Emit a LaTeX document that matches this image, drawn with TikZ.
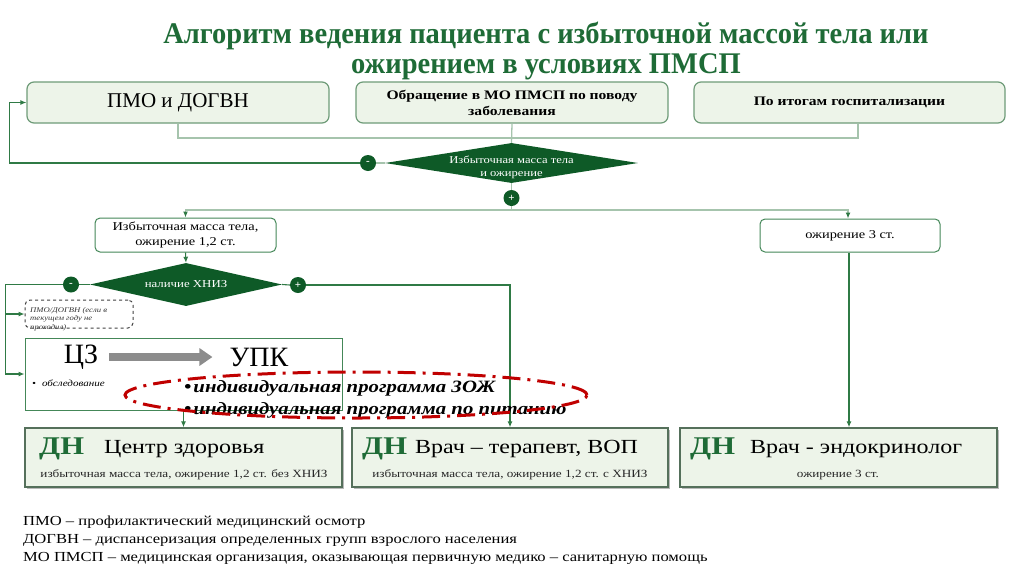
\documentclass[tikz,border=0pt]{standalone}
\usepackage{fontspec}
\setmainfont{Liberation Serif}
\newfontfamily\titlefont[FakeStretch=0.95]{Liberation Serif}
\newfontfamily\wide[FakeStretch=1.2]{Liberation Serif}
\usetikzlibrary{shapes.geometric,arrows.meta,shadows}
\definecolor{ttl}{HTML}{1E6B36}
\definecolor{dk}{HTML}{0E5A27}
\definecolor{bord}{HTML}{6E9B78}
\definecolor{lfill}{HTML}{EDF4E9}
\definecolor{conn}{HTML}{2F7A45}
\definecolor{lconn}{HTML}{A6C4AD}
\definecolor{dnb}{HTML}{55705B}
\definecolor{redd}{HTML}{C00000}
\newcommand{\fsz}[1]{\fontsize{#1}{1.2\dimexpr #1pt\relax}\selectfont}
\begin{document}
\begin{tikzpicture}[x=1pt,y=-1pt,
  topbox/.style={draw=bord, line width=1.2pt, fill=lfill, rounded corners=7pt, inner sep=0},
  whitebox/.style={draw=conn!90, line width=1pt, fill=white, rounded corners=5pt, inner sep=0},
  dashbox/.style={draw=black!75, line width=1pt, dashed, rounded corners=5pt, inner sep=0},
  dec/.style={diamond, fill=dk, inner sep=0},
  dectext/.style={text=white, align=center, inner sep=0},
  sign/.style={circle, fill=dk, minimum size=16pt, inner sep=0, text=white, font=\bfseries\fsz{11}},
  conn/.style={draw=conn, line width=1.1pt},
  lline/.style={draw=lconn, line width=1.3pt},
  arr/.style={-{Latex[length=6pt,width=5pt,color=conn]}},
  dnbox/.style={draw=dnb, line width=1.4pt, fill=lfill, inner sep=0,
     drop shadow={shadow xshift=2pt, shadow yshift=-2pt, fill=black!45, opacity=0.6}},
  txt/.style={inner sep=0}
]
\useasboundingbox (0,0) rectangle (1024,576);

% title
\node[txt, font=\titlefont\bfseries\fsz{30}, text=ttl, align=center, execute at begin node=\setlength{\baselineskip}{30pt}] (title) at (546,51)
  {Алгоритм ведения пациента с избыточной массой тела или\\ожирением в условиях ПМСП};

% top boxes
\node[topbox, minimum width=302pt, minimum height=41pt, font=\fsz{21}] (pmo) at (178,102.5) {ПМО и ДОГВН};
\node[topbox, minimum width=312pt, minimum height=41pt, font=\wide\bfseries\fsz{13}, align=center,
  execute at begin node=\setlength{\baselineskip}{16pt}] (obr) at (512,102.5)
  {Обращение в МО ПМСП по поводу\\заболевания};
\node[topbox, minimum width=311pt, minimum height=41pt, font=\wide\bfseries\fsz{13}] (gosp) at (849.5,102.5) {По итогам госпитализации};

% first decision
\node[dec, minimum width=253pt, minimum height=40pt] (d1) at (511.5,163) {};
\node[dectext, font=\wide\fsz{10.5}, execute at begin node=\setlength{\baselineskip}{13pt}] (d1t) at (511.5,167) {Избыточная масса тела\\и ожирение};
\node[sign] (m1) at (368,163) {-};
\node[sign] (p1) at (511.5,198) {+};

\coordinate (j1) at (511.5,138);
\coordinate (j2) at (511.5,210);
\draw[lline] (pmo.south) |- (j1);
\draw[lline] ([xshift=8.5pt]gosp.south) |- (j1);
\draw[lline] (obr.south) -- (d1.north);
\draw[lline] (m1.east) -- (d1.west);
\draw[lline] (d1.south) -- (p1.north);
\draw[conn, arr] (m1.west) -| ([xshift=-17pt]pmo.west) -- (pmo.west);

% second level boxes
\node[whitebox, minimum width=181pt, minimum height=34pt, align=center, font=\wide\fsz{12},
  execute at begin node=\setlength{\baselineskip}{15pt}] (b12) at (185.5,235)
  {Избыточная масса тела,\\ожирение 1,2 ст.};
\node[whitebox, minimum width=180pt, minimum height=33pt, font=\wide\fsz{12}] (b3) at (850,235.5) {ожирение 3 ст.};
\draw[lline] (p1.south) -- (j2);
\draw[lline, arr] (j2) -| (b12.north);
\draw[lline, arr] (j2) -| ([xshift=-2pt]b3.north);

% second decision
\node[dec, minimum width=192pt, minimum height=43pt] (d2) at (186,284.5) {};
\node[dectext, font=\wide\fsz{10.7}] (d2t) at (186,284.5) {наличие ХНИЗ};
\node[sign] (m2) at (71,284.5) {-};
\node[sign] (p2) at (298,285) {+};
\draw[conn, arr] (b12.south) -- (d2.north);
\draw[conn] (m2.east) -- (d2.west);
\draw[conn] (d2.east) -- (p2.west);

% dashed box and CZ box
\node[dashbox, minimum width=108pt, minimum height=28pt] (dash) at (79,314) {};
\node[txt, anchor=north west, align=left, font=\wide\itshape\fsz{7.2}, text=black!80,
  execute at begin node=\setlength{\baselineskip}{8.6pt}] (dasht) at (30,307)
  {ПМО/ДОГВН (если в\\текущем году не\\проходил)};
\node[draw=conn!90, line width=1pt, fill=white, minimum width=317pt, minimum height=72pt, inner sep=0] (cz) at (183.5,374) {};
\node[txt, font=\fsz{28}] (czt) at (81,357) {ЦЗ};
\node[txt, font=\fsz{28}] (upk) at (259,357) {УПК};
\draw[draw=black!45, line width=8pt, -{Triangle[length=13pt,width=17pt]}, shorten <=11pt, shorten >=17pt] (czt.east) -- (upk.west);
\node[txt, anchor=west, font=\wide\itshape\fsz{9.2}] (obs) at (32,383) {•\hspace{6pt}обследование};

\draw[conn, arr] (m2.west) -| ([xshift=-19pt]cz.west) -- (cz.west);
\draw[conn, arr] ([xshift=-19pt]dash.west) -- (dash.west);

% DN boxes
\node[dnbox, minimum width=317pt, minimum height=59pt] (dn1) at (183.5,457.5) {};
\node[dnbox, minimum width=316pt, minimum height=59pt] (dn2) at (510,457.5) {};
\node[dnbox, minimum width=317pt, minimum height=59pt] (dn3) at (838.5,457.5) {};

\draw[conn, arr] (p2.east) -| (dn2.north);
\draw[conn, arr] (cz.south) -- (dn1.north);
\draw[conn, arr] ([xshift=-1pt]b3.south) -- ([xshift=-1pt]b3.south |- dn3.north);

\node[txt, anchor=base west, font=\wide\bfseries\fsz{25.5}, text=ttl] (dn1h) at (39,454) {ДН};
\node[txt, anchor=base west, font=\wide\fsz{20}] (dn1n) at (104,453) {Центр здоровья};
\node[txt, anchor=base, font=\wide\fsz{11}, text=black!85] (dn1s) at (184,477) {избыточная масса тела, ожирение 1,2 ст. без ХНИЗ};
\node[txt, anchor=base west, font=\wide\bfseries\fsz{25.5}, text=ttl] (dn2h) at (362,454) {ДН};
\node[txt, anchor=base west, font=\wide\fsz{20}] (dn2n) at (415,453) {Врач – терапевт, ВОП};
\node[txt, anchor=base, font=\wide\fsz{11}, text=black!85] (dn2s) at (510,477) {избыточная масса тела, ожирение 1,2 ст. с ХНИЗ};
\node[txt, anchor=base west, font=\wide\bfseries\fsz{25.5}, text=ttl] (dn3h) at (690,454) {ДН};
\node[txt, anchor=base west, font=\wide\fsz{20}] (dn3n) at (750,453) {Врач - эндокринолог};
\node[txt, anchor=base, font=\wide\fsz{11}, text=black!85] (dn3s) at (838,477) {ожирение 3 ст.};

% programs + ellipse
\node[txt, anchor=west, align=left, font=\wide\bfseries\itshape\fsz{17.3},
  execute at begin node=\setlength{\baselineskip}{22pt}] (prog) at (184,399)
  {•\hspace{2pt}индивидуальная программа ЗОЖ\\•\hspace{2pt}индивидуальная программа по питанию};
\node[ellipse, draw=redd, line width=3pt, dash pattern=on 18pt off 7pt on 3pt off 7pt,
  minimum width=462pt, minimum height=46pt, inner sep=0] (ell) at (356,395) {};

% footer
\node[txt, anchor=base west, font=\wide\fsz{13.8}] (f1) at (23,525.5) {ПМО – профилактический медицинский осмотр};
\node[txt, anchor=base west, font=\wide\fsz{13.8}] (f2) at (23,543.5) {ДОГВН – диспансеризация определенных групп взрослого населения};
\node[txt, anchor=base west, font=\wide\fsz{13.8}] (f3) at (23,561.5) {МО ПМСП – медицинская организация, оказывающая первичную медико – санитарную помощь};
\end{tikzpicture}
\end{document}
